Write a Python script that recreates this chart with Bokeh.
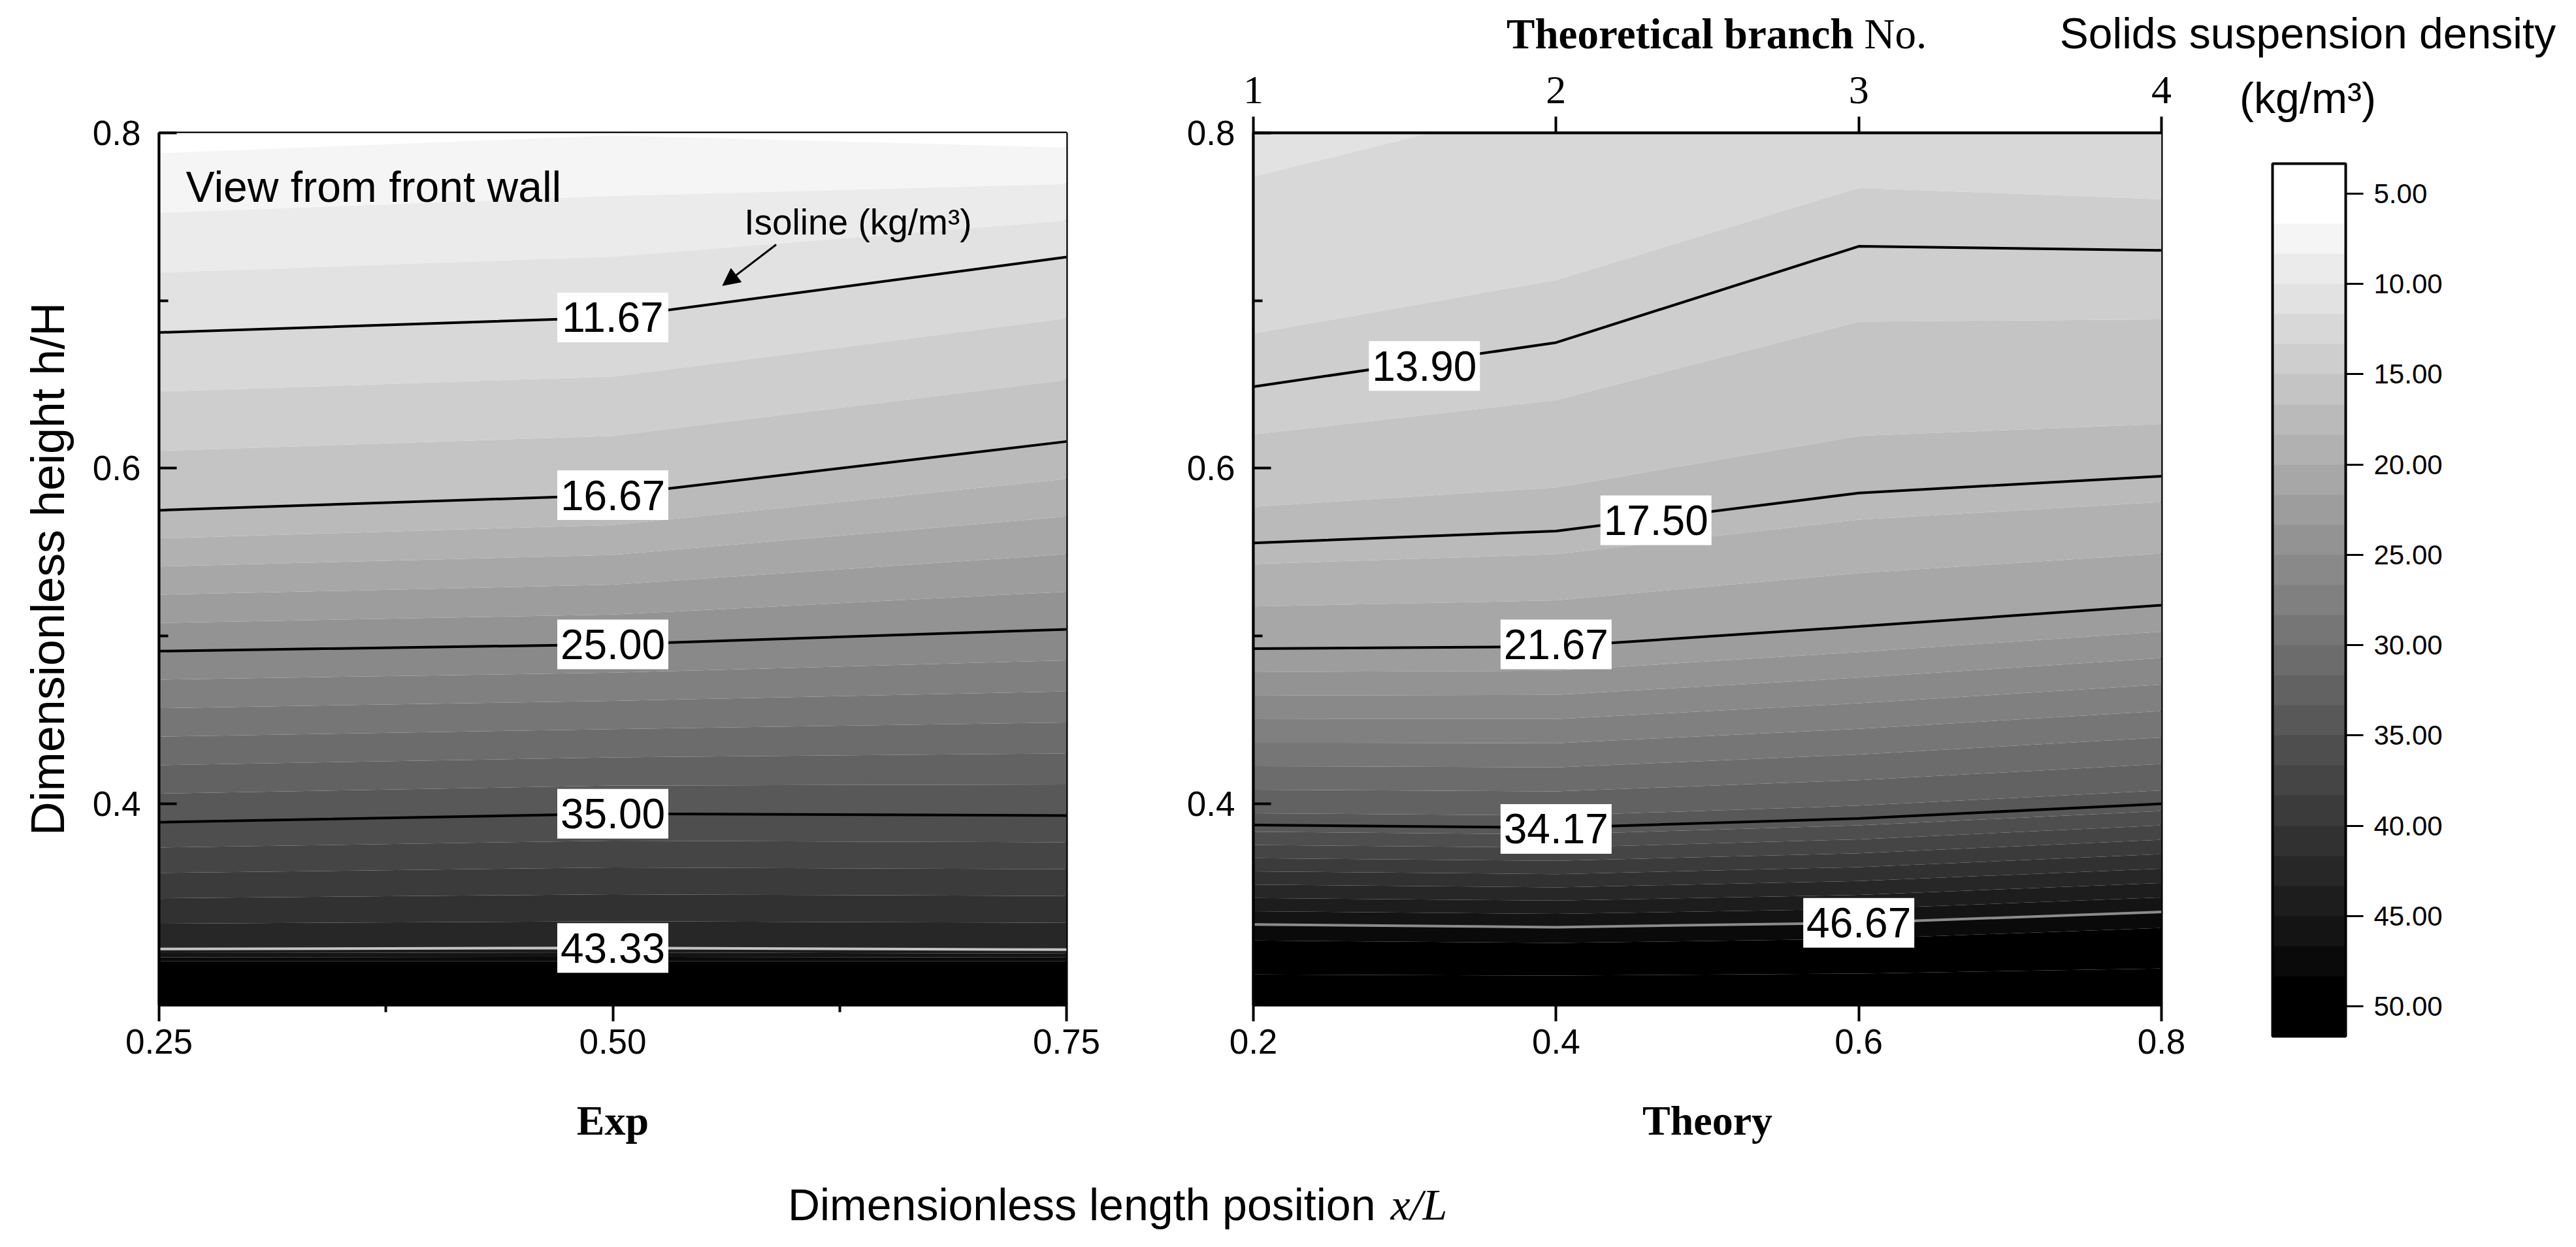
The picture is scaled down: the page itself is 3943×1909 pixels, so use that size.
import numpy as np
from bokeh.plotting import figure
from bokeh.models import (Range1d, LinearAxis, FixedTicker, PrintfTickFormatter, Arrow,
                          NormalHead, Title, ColorBar, LinearColorMapper, CustomJSTickFormatter,
                          AllLabels)
from bokeh.layouts import column, row
from bokeh.core.properties import value
from bokeh.embed import file_html
from bokeh.resources import INLINE

# ---------------- data ----------------
# Left panel (experiment): columns at x/L, isoline heights h/H at each column
exp_x = [0.25, 0.50, 0.75]
exp_iso_levels = [43.33, 35.00, 25.00, 16.67, 11.67]
exp_iso_h = [
    [0.3134, 0.3140, 0.3130],   # 43.33
    [0.3890, 0.3940, 0.3930],   # 35.00
    [0.4910, 0.4950, 0.5040],   # 25.00
    [0.5750, 0.5840, 0.6160],   # 16.67
    [0.6810, 0.6900, 0.7260],   # 11.67
]
exp_bottom_z = [51.5, 51.5, 51.5]        # density at h/H = 0.28
exp_black_h = [0.306, 0.306, 0.306]      # height of the 48.33 edge (black zone)
exp_top_z = [6.1, 6.6, 6.0]              # density at h/H = 0.80
exp_labels = ["43.33", "35.00", "25.00", "16.67", "11.67"]
exp_label_x = [0.50, 0.50, 0.50, 0.50, 0.50]
exp_label_y = [0.314, 0.394, 0.495, 0.584, 0.690]

# Right panel (theory)
th_x = [0.2, 0.4, 0.6, 0.8]
th_iso_levels = [46.67, 34.17, 21.67, 17.50, 13.90]
th_iso_h = [
    [0.3280, 0.3264, 0.3290, 0.3355],   # 46.67
    [0.3873, 0.3857, 0.3912, 0.4000],   # 34.17
    [0.4925, 0.4937, 0.5057, 0.5184],   # 21.67
    [0.5555, 0.5626, 0.5853, 0.5953],   # 17.50
    [0.6487, 0.6750, 0.7324, 0.7300],   # 13.90
]
th_bottom_z = [51.5, 51.5, 51.5, 51.5]
th_black_h = [0.3185, 0.3170, 0.3195, 0.3260]
th_top_z = [11.2, 12.0, 12.8, 12.6]
th_labels = ["46.67", "34.17", "21.67", "17.50", "13.90"]
th_label_x = [0.600, 0.400, 0.400, 0.466, 0.313]
th_label_y = [0.329, 0.385, 0.495, 0.569, 0.661]

branch_ticks = [1, 2, 3, 4]
cb_ticks = [5, 10, 15, 20, 25, 30, 35, 40, 45, 50]
band_low, band_high, n_bands = 10.0 / 3, 155.0 / 3, 29
BLACK_EDGE = 48.33
H_MIN, H_MAX = 0.28, 0.80

# annotation anchors (data coordinates of the left panel)
view_pos = (0.2648, 0.768)
iso_pos = (0.5724, 0.747)
arrow_from = (0.590, 0.7334)
arrow_to = (0.5605, 0.709)

# ---------------- styling ----------------
SANS = "Liberation Sans"
SERIF = "Liberation Serif"
band_edges = list(np.linspace(band_low, band_high, n_bands + 1))
band_colors = []
for k in range(n_bands):
    g = int(round(255 * (27 - k) / 26.0))
    g = max(0, min(255, g))
    band_colors.append("#%02x%02x%02x" % (g, g, g))

STRIP_H = 88      # top text strip
MID_H = 1692      # middle row (panels)
TOP_B = 115       # top border of panels  -> frame top at y = 203
BOT_B = 242       # bottom border of panels -> frame bottom at y = 1538
BOTTOM_H = 120


def field(xn, bottom_z, black_h, levels, iso_h, top_z):
    n = len(xn)
    H = [[H_MIN] * n, list(black_h)] + [list(r) for r in iso_h] + [[H_MAX] * n]
    Z = [list(bottom_z), [BLACK_EDGE] * n] + [[lv] * n for lv in levels] + [list(top_z)]
    X = [list(xn) for _ in H]
    return np.array(X, float), np.array(H, float), np.array(Z, float)


def base_axis(ax, size="53px"):
    ax.axis_line_width = 4
    ax.axis_line_color = "black"
    ax.major_tick_line_width = 4
    ax.minor_tick_line_width = 4
    ax.major_tick_line_color = "black"
    ax.minor_tick_line_color = "black"
    ax.major_label_text_font = SANS
    ax.major_label_text_font_size = size
    ax.major_label_text_color = "black"
    ax.axis_label_text_color = "black"


def blank(width, height, xr, yr):
    f = figure(width=width, height=height, x_range=Range1d(*xr), y_range=Range1d(*yr),
               output_backend="svg", toolbar_location=None, min_border=0, title=None,
               x_axis_location=None, y_axis_location=None)
    f.xgrid.visible = False
    f.ygrid.visible = False
    f.outline_line_color = None
    return f


def make_panel(width, mbl, mbr, xr, xn, bottom_z, black_h, levels, iso_h, top_z,
               iso_colors, labels, lx, ly):
    p = figure(width=width, height=MID_H, x_range=Range1d(*xr), y_range=Range1d(H_MIN, H_MAX),
               output_backend="svg", toolbar_location=None, title=None,
               min_border_left=mbl, min_border_right=mbr, min_border_top=TOP_B,
               min_border_bottom=BOT_B)
    p.xgrid.visible = False
    p.ygrid.visible = False
    p.outline_line_color = "black"
    p.outline_line_width = 4

    X, Y, Z = field(xn, bottom_z, black_h, levels, iso_h, top_z)
    p.contour(x=X, y=Y, z=Z, levels=band_edges, fill_color=band_colors, line_color=None)

    p.multi_line(xs=[list(xn) for _ in iso_h], ys=[list(r) for r in iso_h],
                 line_color=iso_colors, line_width=4)

    p.rect(x=lx, y=ly, width=170, height=76, width_units="screen", height_units="screen",
           fill_color="white", line_color=None)
    p.text(x=lx, y=ly, text=labels, text_align="center", text_baseline="middle",
           text_font=value(SANS), text_font_size="64px", text_color="black")

    ya = p.yaxis[0]
    base_axis(ya)
    ya.ticker = FixedTicker(ticks=[0.4, 0.6, 0.8], minor_ticks=[0.3, 0.5, 0.7])
    ya.formatter = PrintfTickFormatter(format="%.1f")
    ya.major_tick_in = 27
    ya.major_tick_out = 0
    ya.minor_tick_in = 14
    ya.minor_tick_out = 0
    ya.major_label_standoff = 28

    xa = p.xaxis[0]
    base_axis(xa)
    xa.major_tick_in = 0
    xa.major_tick_out = 25
    xa.minor_tick_in = 0
    xa.minor_tick_out = 11
    xa.major_label_standoff = 12
    xa.axis_label_text_font = SERIF
    xa.axis_label_text_font_style = "bold"
    xa.axis_label_text_font_size = "64px"
    xa.axis_label_standoff = 64
    return p


# ---------------- top strip (page pixel coordinates) ----------------
top_strip = blank(3935, STRIP_H, (0, 3935), (STRIP_H, 0))
top_strip.text(x=[2837], y=[51], text=["Theoretical branch"], text_align="right",
               text_baseline="middle", text_font=value(SERIF), text_font_style="bold",
               text_font_size="65px", text_color="black")
top_strip.text(x=[2853], y=[51], text=["No."], text_align="left", text_baseline="middle",
               text_font=value(SERIF), text_font_size="65px", text_color="black")
top_strip.text(x=[3532], y=[50], text=["Solids suspension density"], text_align="center",
               text_baseline="middle", text_font=value(SANS), text_font_size="66px",
               text_color="black")

# ---------------- left panel ----------------
p1 = make_panel(1768, 243, 136, (0.25, 0.75), exp_x, exp_bottom_z, exp_black_h, exp_iso_levels,
                exp_iso_h, exp_top_z, ["#c4c4c4", "black", "black", "black", "black"],
                exp_labels, exp_label_x, exp_label_y)
p1.xaxis[0].ticker = FixedTicker(ticks=[0.25, 0.50, 0.75], minor_ticks=[0.375, 0.625])
p1.xaxis[0].formatter = PrintfTickFormatter(format="%.2f")
p1.xaxis[0].axis_label = "Exp"
ya = p1.yaxis[0]
ya.axis_label = "Dimensionless height h/H"
ya.axis_label_text_font = SANS
ya.axis_label_text_font_style = "normal"
ya.axis_label_text_font_size = "72px"
ya.axis_label_standoff = 26

p1.text(x=[view_pos[0]], y=[view_pos[1]], text=["View from front wall"], text_align="left",
        text_baseline="middle", text_font=value(SANS), text_font_size="66px", text_color="black")
p1.text(x=[iso_pos[0]], y=[iso_pos[1]], text=["Isoline (kg/m³)"], text_align="left",
        text_baseline="middle", text_font=value(SANS), text_font_size="55px", text_color="black")
p1.add_layout(Arrow(end=NormalHead(size=26, fill_color="black", line_color="black", line_width=1),
                    x_start=arrow_from[0], y_start=arrow_from[1],
                    x_end=arrow_to[0], y_end=arrow_to[1],
                    line_color="black", line_width=3))

# ---------------- right panel ----------------
p2 = make_panel(1632, 150, 92, (0.2, 0.8), th_x, th_bottom_z, th_black_h, th_iso_levels,
                th_iso_h, th_top_z, ["#8c8c8c", "black", "black", "black", "black"],
                th_labels, th_label_x, th_label_y)
p2.xaxis[0].ticker = FixedTicker(ticks=[0.2, 0.4, 0.6, 0.8], minor_ticks=[])
p2.xaxis[0].formatter = PrintfTickFormatter(format="%.1f")
p2.xaxis[0].axis_label = "Theory"

p2.extra_x_ranges = {"branch": Range1d(1, 4)}
top = LinearAxis(x_range_name="branch", ticker=FixedTicker(ticks=branch_ticks, minor_ticks=[]))
base_axis(top, size="62px")
top.major_label_text_font = SERIF
top.major_tick_in = 0
top.major_tick_out = 25
top.major_label_standoff = 21
p2.add_layout(top, "above")

# ---------------- colour scale (own figure, same borders as the panels) ----------------
cbf = figure(width=535, height=MID_H, x_range=Range1d(0, 1), y_range=Range1d(0, 1),
             output_backend="svg", toolbar_location=None,
             x_axis_location=None, y_axis_location=None,
             min_border_left=20, min_border_right=291, min_border_top=TOP_B,
             min_border_bottom=BOT_B)
cbf.title = Title(text="(kg/m³)", align="center", text_font=SANS, text_font_size="66px",
                  text_font_style="normal", text_color="black", standoff=34)
cbf.xgrid.visible = False
cbf.ygrid.visible = False
cbf.outline_line_color = None

mapper = LinearColorMapper(palette=list(reversed(band_colors)), low=-band_high, high=-band_low)
cb = ColorBar(color_mapper=mapper, location=(58, -48), width=112, height=1336,
              padding=0, margin=0,
              ticker=FixedTicker(ticks=[-t for t in cb_ticks], minor_ticks=[]),
              formatter=CustomJSTickFormatter(code="return Math.abs(tick).toFixed(2)"),
              major_label_policy=AllLabels(),
              major_label_text_font=SANS, major_label_text_font_size="42px",
              major_label_text_color="black", label_standoff=16,
              major_tick_in=0, major_tick_out=27, major_tick_line_color="black",
              major_tick_line_width=3, minor_tick_line_color=None,
              bar_line_color="black", bar_line_width=4,
              border_line_color=None, background_fill_color=None)
cbf.add_layout(cb)

# ---------------- shared x label ----------------
bottom_strip = blank(3935, BOTTOM_H, (0, 3935), (1900, 1900 - BOTTOM_H))
bottom_strip.text(x=[2105], y=[1843], text=["Dimensionless length position"], text_align="right",
                  text_baseline="middle", text_font=value(SANS), text_font_size="68px",
                  text_color="black")
bottom_strip.text(x=[2128], y=[1843], text=["x/L"], text_align="left", text_baseline="middle",
                  text_font=value(SERIF), text_font_style="italic", text_font_size="68px",
                  text_color="black")

layout = column(top_strip, row(p1, p2, cbf), bottom_strip)
open("out.html", "w").write(file_html(layout, INLINE))
